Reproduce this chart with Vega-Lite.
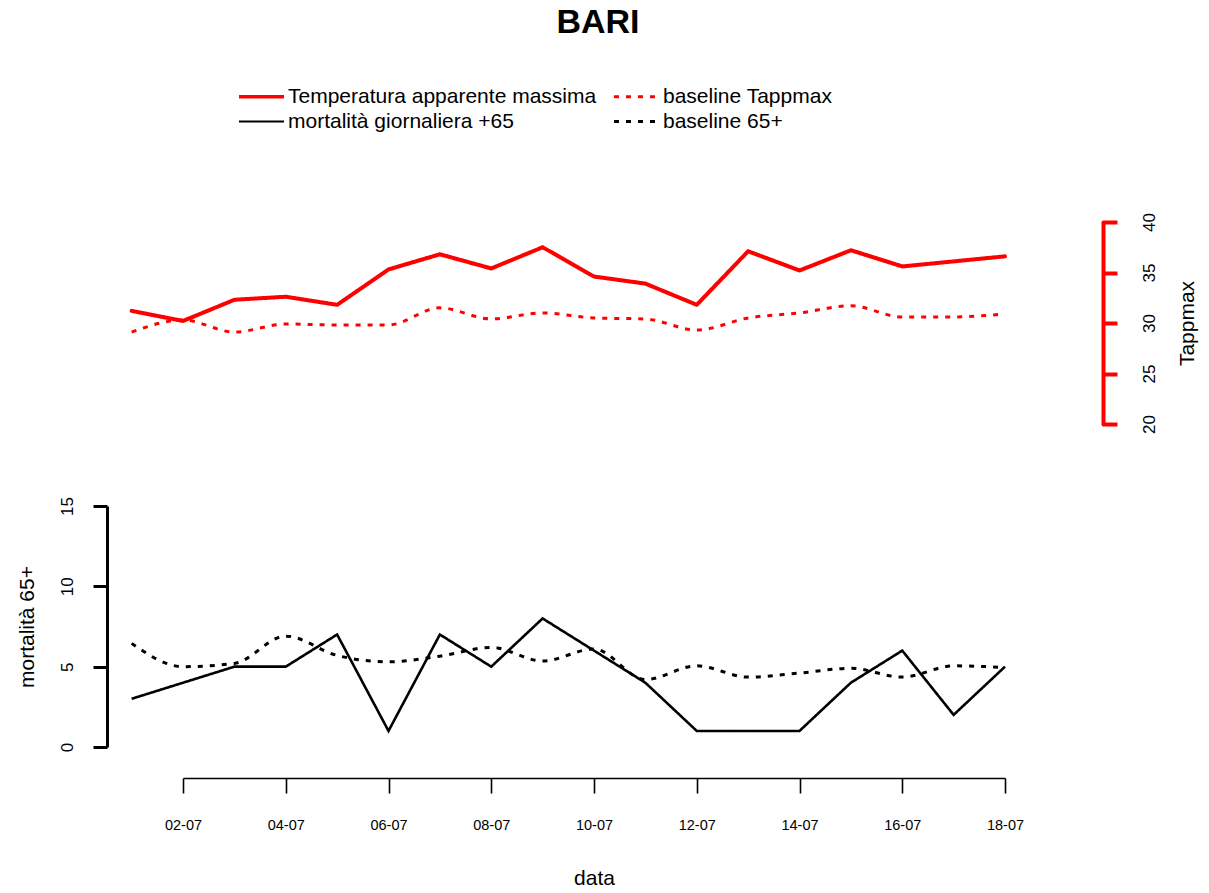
{
  "$schema": "https://vega.github.io/schema/vega-lite/v6.json",
  "padding": {"left": 16, "top": 6, "right": 8, "bottom": 5},
  "background": "#ffffff",
  "title": {"text": "BARI", "font": "Liberation Sans", "fontSize": 34, "fontWeight": "bold", "color": "#000000", "anchor": "middle", "frame": "group", "offset": 46, "dx": 4},
  "bounds": "flush",
  "spacing": 82,
  "config": {
    "view": {"stroke": null},
    "font": "Liberation Sans",
    "axis": {"grid": false, "labelFont": "Liberation Sans", "titleFont": "Liberation Sans", "labelColor": "#000000", "titleColor": "#000000", "titleFontWeight": "normal"}
  },
  "resolve": {
    "scale": {"x": "independent", "y": "independent", "color": "shared", "strokeDash": "shared"},
    "legend": {"color": "shared", "strokeDash": "shared"}
  },
  "vconcat": [
    {
      "width": 822,
      "height": 202,
      "data": {
        "values": [
          {"data": "01-07", "serie": "Temperatura apparente massima", "valore": 31.2},
          {"data": "02-07", "serie": "Temperatura apparente massima", "valore": 30.2},
          {"data": "03-07", "serie": "Temperatura apparente massima", "valore": 32.3},
          {"data": "04-07", "serie": "Temperatura apparente massima", "valore": 32.6},
          {"data": "05-07", "serie": "Temperatura apparente massima", "valore": 31.8},
          {"data": "06-07", "serie": "Temperatura apparente massima", "valore": 35.3},
          {"data": "07-07", "serie": "Temperatura apparente massima", "valore": 36.8},
          {"data": "08-07", "serie": "Temperatura apparente massima", "valore": 35.4},
          {"data": "09-07", "serie": "Temperatura apparente massima", "valore": 37.5},
          {"data": "10-07", "serie": "Temperatura apparente massima", "valore": 34.6},
          {"data": "11-07", "serie": "Temperatura apparente massima", "valore": 33.9},
          {"data": "12-07", "serie": "Temperatura apparente massima", "valore": 31.8},
          {"data": "13-07", "serie": "Temperatura apparente massima", "valore": 37.1},
          {"data": "14-07", "serie": "Temperatura apparente massima", "valore": 35.2},
          {"data": "15-07", "serie": "Temperatura apparente massima", "valore": 37.2},
          {"data": "16-07", "serie": "Temperatura apparente massima", "valore": 35.6},
          {"data": "17-07", "serie": "Temperatura apparente massima", "valore": 36.1},
          {"data": "18-07", "serie": "Temperatura apparente massima", "valore": 36.6},
          {"data": "01-07", "serie": "baseline Tappmax", "valore": 29.1},
          {"data": "02-07", "serie": "baseline Tappmax", "valore": 30.3},
          {"data": "03-07", "serie": "baseline Tappmax", "valore": 29.1},
          {"data": "04-07", "serie": "baseline Tappmax", "valore": 29.9},
          {"data": "05-07", "serie": "baseline Tappmax", "valore": 29.8},
          {"data": "06-07", "serie": "baseline Tappmax", "valore": 29.8},
          {"data": "07-07", "serie": "baseline Tappmax", "valore": 31.5},
          {"data": "08-07", "serie": "baseline Tappmax", "valore": 30.4},
          {"data": "09-07", "serie": "baseline Tappmax", "valore": 31.0},
          {"data": "10-07", "serie": "baseline Tappmax", "valore": 30.5},
          {"data": "11-07", "serie": "baseline Tappmax", "valore": 30.4},
          {"data": "12-07", "serie": "baseline Tappmax", "valore": 29.3},
          {"data": "13-07", "serie": "baseline Tappmax", "valore": 30.5},
          {"data": "14-07", "serie": "baseline Tappmax", "valore": 31.0},
          {"data": "15-07", "serie": "baseline Tappmax", "valore": 31.7},
          {"data": "16-07", "serie": "baseline Tappmax", "valore": 30.6},
          {"data": "17-07", "serie": "baseline Tappmax", "valore": 30.6},
          {"data": "18-07", "serie": "baseline Tappmax", "valore": 30.9}
        ],
        "format": {"parse": {"data": "date:'%d-%m'"}}
      },
      "encoding": {
        "x": {
          "field": "data", "type": "temporal",
          "scale": {"domain": [{"year": 1900, "month": 7, "date": 2}, {"year": 1900, "month": 7, "date": 18}]},
          "axis": null
        },
        "y": {
          "field": "valore", "type": "quantitative",
          "scale": {"domain": [20, 40], "nice": false, "zero": false},
          "axis": {
            "orient": "right", "offset": 98, "values": [20, 25, 30, 35, 40],
            "domainColor": "#ff0000", "domainWidth": 4, "domainCap": "round",
            "tickColor": "#ff0000", "tickWidth": 4, "tickSize": 14,
            "labelAngle": -90, "labelAlign": "center", "labelBaseline": "top", "labelPadding": 24, "labelFontSize": 17,
            "title": "Tappmax", "titleAngle": -90, "titleBaseline": "top", "titleAlign": "center", "titleFontSize": 21, "titlePadding": 19
          }
        },
        "color": {
          "field": "serie", "type": "nominal",
          "scale": {"domain": ["Temperatura apparente massima", "mortalità giornaliera +65", "baseline Tappmax", "baseline 65+"], "range": ["#ff0000", "#000000", "#ff0000", "#000000"]},
          "legend": {
            "orient": "none", "legendX": 57, "legendY": -136, "columns": 2, "title": null,
            "symbolType": "stroke", "symbolSize": 2025, "symbolStrokeWidth": 3, "symbolOffset": 11,
            "labelFont": "Liberation Sans", "labelFontSize": 21, "labelColor": "#000000", "labelLimit": 600, "labelOffset": 16,
            "columnPadding": 11, "rowPadding": 3,
            "encode": {"symbols": {"update": {"strokeWidth": {"signal": "datum.value === 'Temperatura apparente massima' ? 3.5 : datum.value === 'mortalità giornaliera +65' ? 2 : 3"}}}}
          }
        },
        "strokeDash": {
          "field": "serie", "type": "nominal",
          "scale": {"domain": ["Temperatura apparente massima", "mortalità giornaliera +65", "baseline Tappmax", "baseline 65+"], "range": [[1, 0], [1, 0], [5, 7], [5, 7]]},
          "legend": {
            "orient": "none", "legendX": 57, "legendY": -136, "columns": 2, "title": null,
            "symbolType": "stroke", "symbolSize": 2025, "symbolStrokeWidth": 3, "symbolOffset": 11,
            "labelFont": "Liberation Sans", "labelFontSize": 21, "labelColor": "#000000", "labelLimit": 600, "labelOffset": 16,
            "columnPadding": 11, "rowPadding": 3
          }
        }
      },
      "layer": [
        {
          "transform": [{"filter": "datum.serie === 'Temperatura apparente massima'"}],
          "mark": {"type": "line", "clip": false, "strokeWidth": 4, "strokeJoin": "round", "strokeCap": "round"}
        },
        {
          "transform": [{"filter": "datum.serie === 'baseline Tappmax'"}],
          "mark": {"type": "line", "clip": false, "strokeWidth": 3, "interpolate": "monotone", "strokeCap": "butt"}
        }
      ]
    },
    {
      "width": 822,
      "height": 241,
      "data": {
        "values": [
          {"data": "01-07", "serie": "mortalità giornaliera +65", "valore": 3},
          {"data": "02-07", "serie": "mortalità giornaliera +65", "valore": 4},
          {"data": "03-07", "serie": "mortalità giornaliera +65", "valore": 5},
          {"data": "04-07", "serie": "mortalità giornaliera +65", "valore": 5},
          {"data": "05-07", "serie": "mortalità giornaliera +65", "valore": 7},
          {"data": "06-07", "serie": "mortalità giornaliera +65", "valore": 1},
          {"data": "07-07", "serie": "mortalità giornaliera +65", "valore": 7},
          {"data": "08-07", "serie": "mortalità giornaliera +65", "valore": 5},
          {"data": "09-07", "serie": "mortalità giornaliera +65", "valore": 8},
          {"data": "10-07", "serie": "mortalità giornaliera +65", "valore": 6},
          {"data": "11-07", "serie": "mortalità giornaliera +65", "valore": 4},
          {"data": "12-07", "serie": "mortalità giornaliera +65", "valore": 1},
          {"data": "13-07", "serie": "mortalità giornaliera +65", "valore": 1},
          {"data": "14-07", "serie": "mortalità giornaliera +65", "valore": 1},
          {"data": "15-07", "serie": "mortalità giornaliera +65", "valore": 4},
          {"data": "16-07", "serie": "mortalità giornaliera +65", "valore": 6},
          {"data": "17-07", "serie": "mortalità giornaliera +65", "valore": 2},
          {"data": "18-07", "serie": "mortalità giornaliera +65", "valore": 5},
          {"data": "01-07", "serie": "baseline 65+", "valore": 6.45},
          {"data": "02-07", "serie": "baseline 65+", "valore": 5.0},
          {"data": "03-07", "serie": "baseline 65+", "valore": 5.2},
          {"data": "04-07", "serie": "baseline 65+", "valore": 6.9},
          {"data": "05-07", "serie": "baseline 65+", "valore": 5.7},
          {"data": "06-07", "serie": "baseline 65+", "valore": 5.3},
          {"data": "07-07", "serie": "baseline 65+", "valore": 5.65},
          {"data": "08-07", "serie": "baseline 65+", "valore": 6.2},
          {"data": "09-07", "serie": "baseline 65+", "valore": 5.35},
          {"data": "10-07", "serie": "baseline 65+", "valore": 6.1},
          {"data": "11-07", "serie": "baseline 65+", "valore": 4.2},
          {"data": "12-07", "serie": "baseline 65+", "valore": 5.05},
          {"data": "13-07", "serie": "baseline 65+", "valore": 4.35},
          {"data": "14-07", "serie": "baseline 65+", "valore": 4.6},
          {"data": "15-07", "serie": "baseline 65+", "valore": 4.9},
          {"data": "16-07", "serie": "baseline 65+", "valore": 4.35},
          {"data": "17-07", "serie": "baseline 65+", "valore": 5.05},
          {"data": "18-07", "serie": "baseline 65+", "valore": 4.95}
        ],
        "format": {"parse": {"data": "date:'%d-%m'"}}
      },
      "encoding": {
        "x": {
          "field": "data", "type": "temporal",
          "scale": {"domain": [{"year": 1900, "month": 7, "date": 2}, {"year": 1900, "month": 7, "date": 18}]},
          "axis": {
            "orient": "bottom", "offset": 31, "format": "%d-%m",
            "values": [
              {"year": 1900, "month": 7, "date": 2}, {"year": 1900, "month": 7, "date": 4}, {"year": 1900, "month": 7, "date": 6},
              {"year": 1900, "month": 7, "date": 8}, {"year": 1900, "month": 7, "date": 10}, {"year": 1900, "month": 7, "date": 12},
              {"year": 1900, "month": 7, "date": 14}, {"year": 1900, "month": 7, "date": 16}, {"year": 1900, "month": 7, "date": 18}
            ],
            "domainColor": "#000000", "domainWidth": 1.6, "tickColor": "#000000", "tickWidth": 1.6, "tickSize": 15,
            "labelFontSize": 14.5, "labelPadding": 25, "labelFlush": false, "labelOverlap": false, "labelBaseline": "top",
            "title": "data", "titleFontSize": 21, "titlePadding": 36
          }
        },
        "y": {
          "field": "valore", "type": "quantitative",
          "scale": {"domain": [0, 15], "nice": false},
          "axis": {
            "orient": "left", "offset": 76, "values": [0, 5, 10, 15],
            "domainColor": "#000000", "domainWidth": 3, "tickColor": "#000000", "tickWidth": 3, "tickSize": 14,
            "labelAngle": -90, "labelAlign": "center", "labelBaseline": "alphabetic", "labelPadding": 21, "labelFontSize": 17,
            "title": "mortalità 65+", "titleAngle": -90, "titleBaseline": "alphabetic", "titleAlign": "center", "titleFontSize": 21, "titlePadding": 25
          }
        },
        "color": {
          "field": "serie", "type": "nominal",
          "scale": {"domain": ["Temperatura apparente massima", "mortalità giornaliera +65", "baseline Tappmax", "baseline 65+"], "range": ["#ff0000", "#000000", "#ff0000", "#000000"]},
          "legend": {
            "orient": "none", "legendX": 57, "legendY": -136, "columns": 2, "title": null,
            "symbolType": "stroke", "symbolSize": 2025, "symbolStrokeWidth": 3, "symbolOffset": 11,
            "labelFont": "Liberation Sans", "labelFontSize": 21, "labelColor": "#000000", "labelLimit": 600, "labelOffset": 16,
            "columnPadding": 11, "rowPadding": 3,
            "encode": {"symbols": {"update": {"strokeWidth": {"signal": "datum.value === 'Temperatura apparente massima' ? 3.5 : datum.value === 'mortalità giornaliera +65' ? 2 : 3"}}}}
          }
        },
        "strokeDash": {
          "field": "serie", "type": "nominal",
          "scale": {"domain": ["Temperatura apparente massima", "mortalità giornaliera +65", "baseline Tappmax", "baseline 65+"], "range": [[1, 0], [1, 0], [5, 7], [5, 7]]},
          "legend": {
            "orient": "none", "legendX": 57, "legendY": -136, "columns": 2, "title": null,
            "symbolType": "stroke", "symbolSize": 2025, "symbolStrokeWidth": 3, "symbolOffset": 11,
            "labelFont": "Liberation Sans", "labelFontSize": 21, "labelColor": "#000000", "labelLimit": 600, "labelOffset": 16,
            "columnPadding": 11, "rowPadding": 3
          }
        }
      },
      "layer": [
        {
          "transform": [{"filter": "datum.serie === 'mortalità giornaliera +65'"}],
          "mark": {"type": "line", "clip": false, "strokeWidth": 2.6, "strokeJoin": "miter"}
        },
        {
          "transform": [{"filter": "datum.serie === 'baseline 65+'"}],
          "mark": {"type": "line", "clip": false, "strokeWidth": 3, "interpolate": "monotone", "strokeCap": "butt"}
        }
      ]
    }
  ]
}
